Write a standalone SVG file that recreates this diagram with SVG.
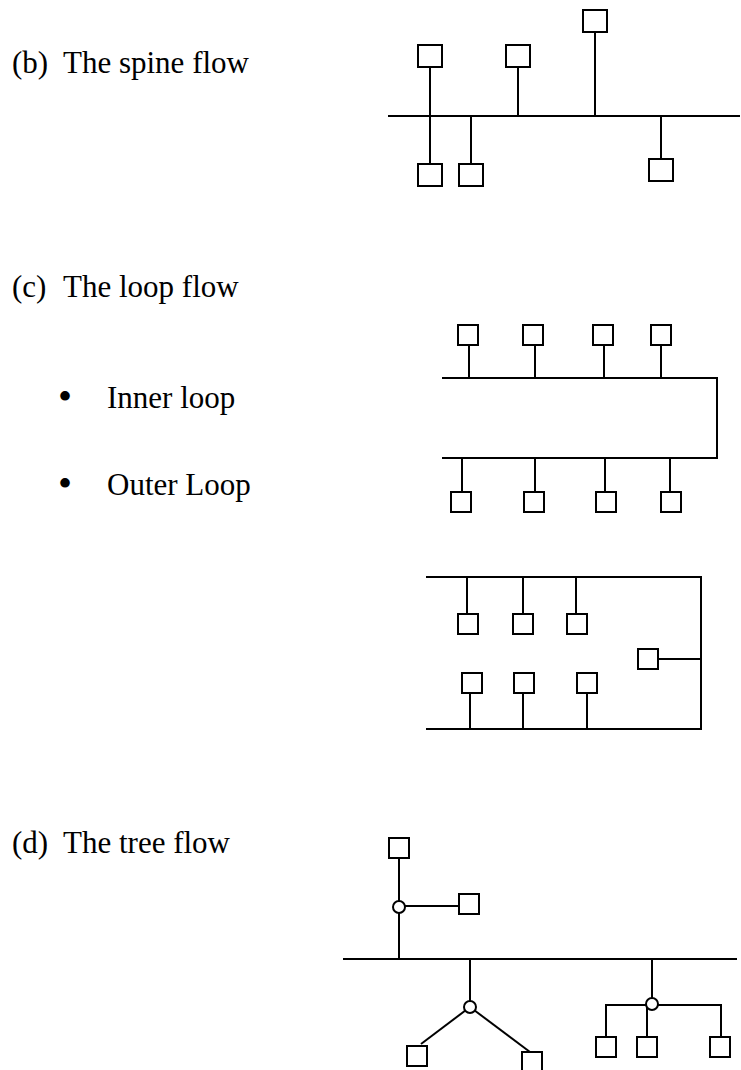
<svg xmlns="http://www.w3.org/2000/svg" width="741" height="1070" viewBox="0 0 741 1070">
<style>
.t{font-family:"Liberation Serif","Times New Roman",serif;font-size:31px;fill:#000}
.b{font-family:"Liberation Serif","Times New Roman",serif;font-size:40px;fill:#000}
.n{fill:#fff;stroke:#000;stroke-width:2}
.c{fill:none;stroke:#000;stroke-width:2}
.j{fill:#fff;stroke:#000;stroke-width:2}
</style>
<rect width="741" height="1070" fill="#fff"/>
<g id="labels">
<text class="t" x="12" y="73">(b)</text><text class="t" x="63" y="73">The spine flow</text>
<text class="t" x="12" y="297">(c)</text><text class="t" x="63" y="297">The loop flow</text>
<text class="b" x="58" y="410">•</text><text class="t" x="107" y="408">Inner loop</text>
<text class="b" x="58" y="497">•</text><text class="t" x="107" y="495">Outer Loop</text>
<text class="t" x="12" y="853">(d)</text><text class="t" x="63" y="853">The tree flow</text>
</g>
<g id="connectors">
<!-- spine -->
<line class="c" x1="388" y1="116" x2="740" y2="116"/>
<line class="c" x1="430" y1="67" x2="430" y2="164"/>
<line class="c" x1="471" y1="116" x2="471" y2="164"/>
<line class="c" x1="518" y1="67" x2="518" y2="116"/>
<line class="c" x1="595" y1="32" x2="595" y2="116"/>
<line class="c" x1="661" y1="116" x2="661" y2="159"/>
<!-- inner loop -->
<path class="c" d="M442,378 H717 V458 H442"/>
<line class="c" x1="469" y1="345" x2="469" y2="378"/>
<line class="c" x1="535" y1="345" x2="535" y2="378"/>
<line class="c" x1="604" y1="345" x2="604" y2="378"/>
<line class="c" x1="661" y1="345" x2="661" y2="378"/>
<line class="c" x1="462" y1="458" x2="462" y2="492"/>
<line class="c" x1="535" y1="458" x2="535" y2="492"/>
<line class="c" x1="605" y1="458" x2="605" y2="492"/>
<line class="c" x1="670" y1="458" x2="670" y2="492"/>
<!-- outer loop -->
<path class="c" d="M426,577 H701 V729 H426"/>
<line class="c" x1="467" y1="577" x2="467" y2="614"/>
<line class="c" x1="523" y1="577" x2="523" y2="614"/>
<line class="c" x1="576" y1="577" x2="576" y2="614"/>
<line class="c" x1="658" y1="659" x2="701" y2="659"/>
<line class="c" x1="470" y1="693" x2="470" y2="729"/>
<line class="c" x1="523" y1="693" x2="523" y2="729"/>
<line class="c" x1="587" y1="693" x2="587" y2="729"/>
<!-- tree -->
<line class="c" x1="343" y1="959" x2="737" y2="959"/>
<line class="c" x1="399" y1="858" x2="399" y2="959"/>
<line class="c" x1="399" y1="906" x2="459" y2="906"/>
<line class="c" x1="470" y1="959" x2="470" y2="1007"/>
<line class="c" x1="470" y1="1007" x2="421" y2="1044"/>
<line class="c" x1="470" y1="1007" x2="530" y2="1052"/>
<line class="c" x1="652" y1="959" x2="652" y2="1004"/>
<path class="c" d="M606,1037 V1005 H721 V1037"/>
<line class="c" x1="647" y1="1005" x2="647" y2="1037"/>
</g>
<g id="junctions">
<circle class="j" cx="399" cy="907" r="6"/>
<circle class="j" cx="470" cy="1007" r="6"/>
<circle class="j" cx="652" cy="1004" r="6"/>
</g>
<g id="spine-nodes">
<rect id="s1" class="n" x="418" y="45" width="24" height="22"/>
<rect id="s2" class="n" x="418" y="164" width="24" height="22"/>
<rect id="s3" class="n" x="459" y="164" width="24" height="22"/>
<rect id="s4" class="n" x="506" y="45" width="24" height="22"/>
<rect id="s5" class="n" x="583" y="10" width="24" height="22"/>
<rect id="s6" class="n" x="649" y="159" width="24" height="22"/>
</g>
<g id="inner-loop-nodes">
<rect id="i1" class="n" x="458" y="325" width="20" height="20"/>
<rect id="i2" class="n" x="523" y="325" width="20" height="20"/>
<rect id="i3" class="n" x="593" y="325" width="20" height="20"/>
<rect id="i4" class="n" x="651" y="325" width="20" height="20"/>
<rect id="i5" class="n" x="451" y="492" width="20" height="20"/>
<rect id="i6" class="n" x="524" y="492" width="20" height="20"/>
<rect id="i7" class="n" x="596" y="492" width="20" height="20"/>
<rect id="i8" class="n" x="661" y="492" width="20" height="20"/>
</g>
<g id="outer-loop-nodes">
<rect id="o1" class="n" x="458" y="614" width="20" height="20"/>
<rect id="o2" class="n" x="513" y="614" width="20" height="20"/>
<rect id="o3" class="n" x="567" y="614" width="20" height="20"/>
<rect id="o4" class="n" x="638" y="649" width="20" height="20"/>
<rect id="o5" class="n" x="462" y="673" width="20" height="20"/>
<rect id="o6" class="n" x="514" y="673" width="20" height="20"/>
<rect id="o7" class="n" x="577" y="673" width="20" height="20"/>
</g>
<g id="tree-nodes">
<rect id="t1" class="n" x="389" y="838" width="20" height="20"/>
<rect id="t2" class="n" x="459" y="894" width="20" height="20"/>
<rect id="t3" class="n" x="407" y="1046" width="20" height="20"/>
<rect id="t4" class="n" x="522" y="1052" width="20" height="20"/>
<rect id="t5" class="n" x="596" y="1037" width="20" height="20"/>
<rect id="t6" class="n" x="637" y="1037" width="20" height="20"/>
<rect id="t7" class="n" x="710" y="1037" width="20" height="20"/>
</g>
</svg>
